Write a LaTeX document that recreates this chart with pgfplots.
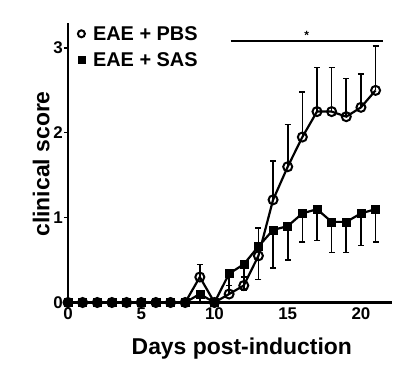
\documentclass[border=0pt]{standalone}
\usepackage{fontspec}
\setmainfont{Liberation Sans}
\usepackage{pgfplots}
\pgfplotsset{compat=1.18}
\pgfplotstableread{
x y e
0 0 0
1 0 0
2 0 0
3 0 0
4 0 0
5 0 0
6 0 0
7 0 0
8 0 0
9 0.30 0.15
10 0 0
11 0.10 0.10
12 0.20 0.10
13 0.55 0.33
14 1.21 0.46
15 1.60 0.50
16 1.95 0.53
17 2.25 0.52
18 2.25 0.52
19 2.19 0.45
20 2.30 0.39
21 2.50 0.52
}\pbs
\pgfplotstableread{
x y e
0 0 0
1 0 0
2 0 0
3 0 0
4 0 0
5 0 0
6 0 0
7 0 0
8 0 0
9 0.10 0.10
10 0 0
11 0.34 0.20
12 0.45 0.30
13 0.66 0.39
14 0.855 0.45
15 0.90 0.40
16 1.05 0.34
17 1.10 0.37
18 0.95 0.36
19 0.95 0.36
20 1.05 0.38
21 1.10 0.39
}\sas
\pgfplotstableread{
x y
0 0
1 0
2 0
3 0
4 0
5 0
6 0
7 0
8 0
10 0
}\zeros
\begin{document}
\begin{tikzpicture}[x=1bp,y=1bp]
\useasboundingbox (-68,-69.5) rectangle (340,302.5);
\begin{axis}[at={(0,0)}, anchor=south west, scale only axis,
  width=323.7bp, height=280bp,
  xmin=0, xmax=22.1, ymin=0, ymax=3.3,
  clip=false,
  axis x line*=bottom, axis y line*=left,
  axis line style={line width=2.5bp, -},
  xtick={0,5,10,15,20}, ytick={0,1,2,3},
  x tick style={draw=none},
  y tick style={line width=1.2bp, black},
  major tick length=4bp, tick align=outside,
  /pgf/number format/assume math mode=true,
  ticklabel style={font=\bfseries\fontsize{17}{17}\selectfont},
  xticklabel style={inner sep=1bp},
  yticklabel style={inner sep=1bp},
  xlabel={Days post-induction},
  ylabel={clinical score},
  xlabel style={at={(rel axis cs:0.537,0)}, anchor=north, yshift=-32bp,
    font=\bfseries\fontsize{23}{23}\selectfont},
  ylabel style={at={(rel axis cs:-0.046,0.495)}, anchor=south,
    font=\bfseries\fontsize{23}{23}\selectfont},
  legend style={at={(rel axis cs:0.030,0.995)}, anchor=north west, draw=none, fill=none,
    font=\bfseries\fontsize{20}{20}\selectfont, row sep=7bp, inner sep=0pt},
  legend cell align=left,
  legend image code/.code={\path[draw=none] (0cm,0cm) -- (0.46cm,0cm);
    \path[#1, mark size=3.5bp] plot[only marks] coordinates {(0.12cm,0cm)};},
]
\addplot[black, line width=2.2bp, mark=o, mark size=4.5bp, mark options={fill=white, line width=2bp},
  error bars/.cd, y dir=plus, y explicit,
  error bar style={line width=1.6bp},
  error mark options={rotate=90, mark size=3bp, line width=1.6bp}]
  table[x=x, y=y, y error=e] {\pbs};
\addlegendentry{EAE + PBS}
\addplot[black, line width=2.2bp, mark=square*, mark size=4bp, mark options={line width=0.5bp},
  error bars/.cd, y dir=minus, y explicit,
  error bar style={line width=1.6bp},
  error mark options={rotate=90, mark size=3bp, line width=1.6bp}]
  table[x=x, y=y, y error=e] {\sas};
\addlegendentry{EAE + SAS}
\addplot[black, only marks, mark=*, mark size=4.5bp, forget plot] table[x=x, y=y] {\zeros};
\addplot[black, line width=1.5bp, no marks, forget plot] coordinates {(11.1,3.08) (21.5,3.08)};
\node[anchor=south, inner sep=1bp, font=\bfseries\fontsize{12}{12}\selectfont] at (axis cs:16.3,3.08) {*};
\end{axis}
\end{tikzpicture}
\end{document}
